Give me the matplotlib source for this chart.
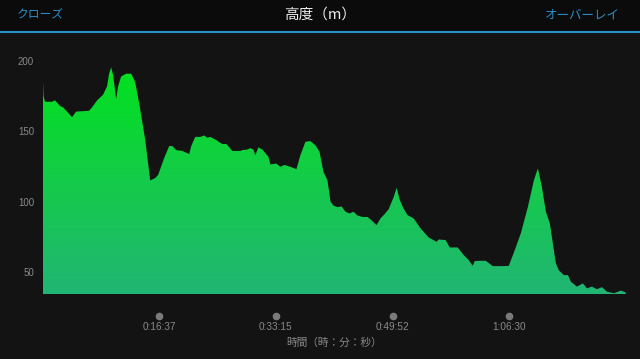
import numpy as np
import matplotlib.pyplot as plt
from matplotlib.colors import LinearSegmentedColormap
from matplotlib.transforms import blended_transform_factory

# elapsed time (minutes) and elevation (m)
time_min = [0.0, 0.15, 0.36, 1.36, 1.78, 2.50, 2.93, 3.50, 4.21, 4.78, 6.64, 7.06, 7.78,
            8.63, 9.20, 9.49, 9.78, 10.06, 10.49, 10.77, 11.20, 11.92, 12.63, 13.20,
            13.77, 14.63, 15.34, 16.06, 16.48, 17.34, 18.05, 18.48, 19.05, 19.91,
            20.90, 21.19, 21.76, 22.48, 23.05, 23.47, 23.90, 24.76, 25.61, 26.19,
            27.04, 28.18, 28.47, 29.18, 29.61, 30.04, 30.32, 30.75, 31.32, 32.18,
            32.46, 33.32, 33.89, 34.46, 35.32, 36.17, 36.74, 37.46, 38.17, 38.88,
            39.46, 40.03, 40.60, 41.03, 41.46, 42.03, 42.60, 43.17, 43.74, 44.31,
            44.88, 45.59, 46.31, 47.02, 47.59, 48.16, 48.73, 49.30, 50.02, 50.45,
            50.87, 51.44, 52.01, 52.87, 53.87, 55.01, 56.15, 56.44, 57.44, 58.01,
            59.15, 60.01, 60.72, 61.29, 61.58, 62.43, 63.15, 64.15, 65.57, 66.43,
            67.28, 68.14, 69.14, 70.00, 70.57, 71.14, 71.71, 72.28, 72.71, 73.13,
            73.56, 74.28, 74.85, 75.28, 76.13, 76.99, 77.56, 78.27, 78.99, 79.70,
            80.41, 81.41, 82.41, 83.1]
elev_m = [195.5, 175, 171, 171, 172, 168, 167, 164, 160, 164, 164.6, 167, 172,
          176, 182, 191, 195.5, 190, 173, 182, 189, 191, 191, 185,
          170, 144, 115, 116.7, 119, 131, 139.5, 139.5, 136.6, 136,
          133.8, 139.5, 146, 146, 147, 145.4, 146, 143.7, 140.9, 141,
          136, 136, 136.6, 137, 138, 137, 133, 138.5, 137, 131.8,
          126.4, 127, 124.7, 126, 124.7, 123, 133, 142.5, 143, 140,
          135.4, 121, 115, 100, 97, 96, 96.5, 92.7, 91.5, 92.7,
          90, 89, 89, 86, 83.2, 88, 91, 94.4, 103, 109.8,
          101.5, 95, 90.3, 88, 80.8, 74.4, 71.3, 73, 72.5, 67.3,
          67.3, 61.8, 58.3, 54.2, 57.6, 57.8, 57.8, 54, 54, 54.2,
          65.4, 77.3, 96, 115, 123.6, 110.5, 92.7, 84.4, 70, 56,
          51, 47.6, 47.6, 42.9, 39.4, 41.7, 38.2, 39.4, 37.6, 39,
          35.8, 34.7, 36.6, 35.2]

y_ticks = [50, 100, 150, 200]
x_tick_min = [16.625, 33.25, 49.875, 66.5]
x_tick_labels = ['0:16:37', '0:33:15', '0:49:52', '1:06:30']

BG = '#131313'
HEADER_BG = '#0b0b0b'
BLUE = '#2a8fc4'
GRAY = '#8a8a8a'
JP = ['Noto Sans CJK JP', 'DejaVu Sans']
NUM = ['Liberation Sans', 'DejaVu Sans']

fig = plt.figure(figsize=(6.4, 3.59), dpi=100, facecolor=BG)

# header bar
fig.patches.append(plt.Rectangle((0, 1 - 31 / 359), 1, 31 / 359, transform=fig.transFigure,
                                 facecolor=HEADER_BG, edgecolor='none', zorder=0))
fig.add_artist(plt.Line2D([0, 1], [1 - 32 / 359] * 2, transform=fig.transFigure,
                          color=BLUE, lw=1.5))
fig.text(0.5, 1 - 15 / 359, '高度（m）', ha='center', va='center', color='#eeeeee',
         fontsize=10.5, family=JP)
fig.text(17 / 640, 1 - 15 / 359, 'クローズ', ha='left', va='center', color=BLUE,
         fontsize=8.5, family=JP)
fig.text(1 - 20 / 640, 1 - 15 / 359, 'オーバーレイ', ha='right', va='center', color=BLUE,
         fontsize=9, family=JP)

left, right = 42.5 / 640, 626 / 640
bottom, top = (359 - 294.5) / 359, (359 - 54) / 359
ax = fig.add_axes([left, bottom, right - left, top - bottom], facecolor=BG)

# gradient fill clipped to the elevation profile
poly = ax.fill_between(time_min, elev_m, 33.8, color='none', lw=0)
cmap = LinearSegmentedColormap.from_list('elev', ['#21b574', '#14cc48', '#00e31a'])
grad = np.linspace(0, 1, 256).reshape(-1, 1)
img = ax.imshow(grad, cmap=cmap, aspect='auto', origin='lower',
                extent=[0, 83.125, 33.8, 200], zorder=1)
img.set_clip_path(poly.get_paths()[0], transform=ax.transData)
ax.set_xlim(0, 83.125)
ax.set_ylim(33.8, 205)

for s in ax.spines.values():
    s.set_visible(False)
ax.set_yticks(y_ticks)
ax.set_yticklabels([str(v) for v in y_ticks], color=GRAY, fontsize=7, family=NUM)
ax.tick_params(axis='y', length=0, pad=6)
ax.set_xticks([])

tr = blended_transform_factory(ax.transData, ax.transAxes)
ax.plot(x_tick_min, [-0.089] * len(x_tick_min), 'o', color='#7a7a7a', ms=4.5,
        transform=tr, clip_on=False)
for xm, lab in zip(x_tick_min, x_tick_labels):
    ax.text(xm, -0.135, lab, transform=tr, ha='center', va='center', color=GRAY,
            fontsize=7.2, family=NUM)
fig.text((42.5 + 626) / 2 / 640, 1 - 343 / 359, '時間（時：分：秒）', ha='center',
         va='center', color=GRAY, fontsize=7.7, family=JP)

fig.savefig('out.png', dpi=100, facecolor=BG)
